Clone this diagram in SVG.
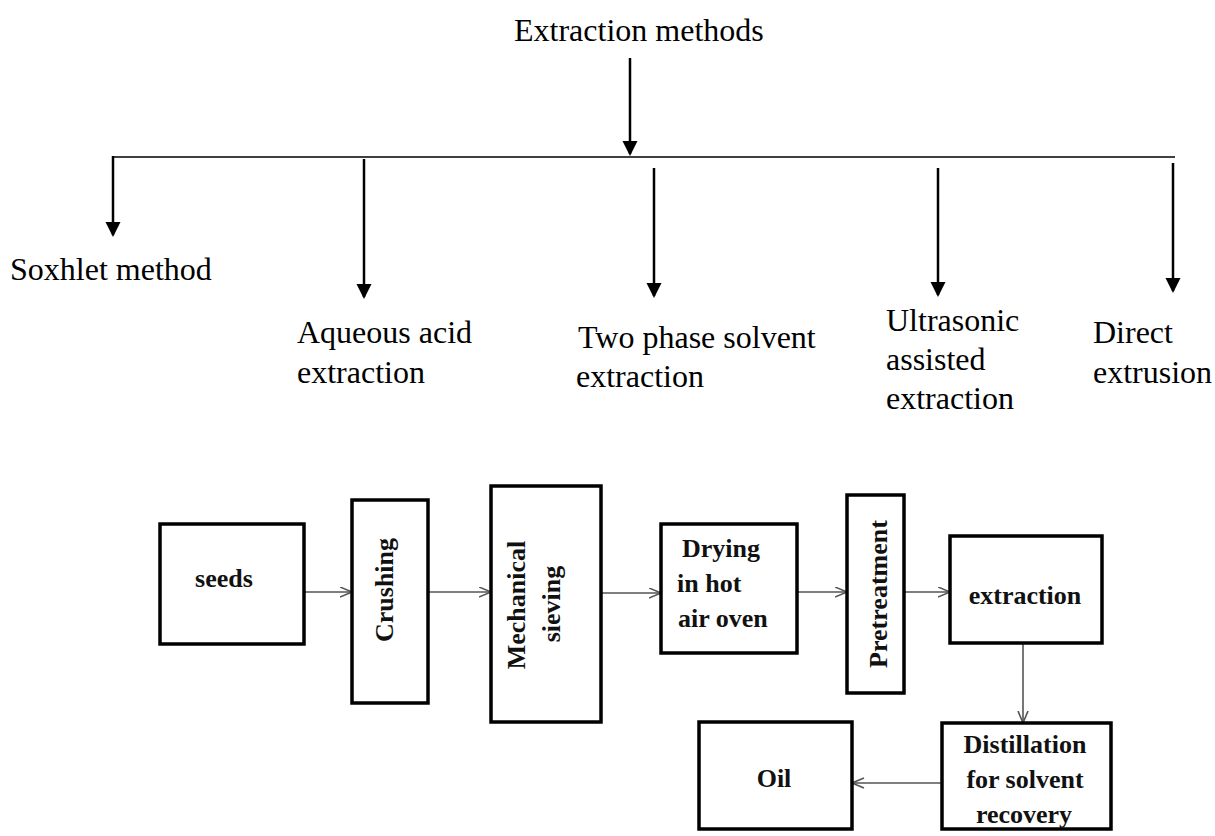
<svg xmlns="http://www.w3.org/2000/svg" width="1215" height="836" viewBox="0 0 1215 836">
<style>
.t{font-family:"Liberation Serif","Times New Roman",serif;font-size:32px;fill:#000}
.b{font-family:"Liberation Serif","Times New Roman",serif;font-size:26px;font-weight:bold;fill:#111}
.box{fill:#fff;stroke:#000;stroke-width:3.5}
.blk{stroke:#000;stroke-width:2.5;fill:none}
.gry{stroke:#555;stroke-width:1.6;fill:none}
</style>
<defs>
<marker id="tri" markerUnits="userSpaceOnUse" markerWidth="16" markerHeight="16" refX="13" refY="7.5" orient="auto">
<path d="M0,0 L15,7.5 L0,15 z" fill="#000"/>
</marker>
<marker id="chev" markerUnits="userSpaceOnUse" markerWidth="14" markerHeight="12" refX="12.5" refY="5.5" orient="auto">
<path d="M0.5,0.5 L12.5,5.5 L0.5,10.5" fill="none" stroke="#555" stroke-width="1.6"/>
</marker>
</defs>
<g id="connectors">
<line x1="112" y1="157" x2="1175" y2="157" stroke="#000" stroke-width="1.6"/>
<line class="blk" x1="630" y1="58" x2="630" y2="154" marker-end="url(#tri)"/>
<line class="blk" x1="113" y1="156" x2="113" y2="235" marker-end="url(#tri)"/>
<line class="blk" x1="364" y1="159" x2="364" y2="297" marker-end="url(#tri)"/>
<line class="blk" x1="654" y1="168" x2="654" y2="296" marker-end="url(#tri)"/>
<line class="blk" x1="938" y1="168" x2="938" y2="295" marker-end="url(#tri)"/>
<line class="blk" x1="1173" y1="163" x2="1173" y2="291" marker-end="url(#tri)"/>
<line class="gry" x1="304" y1="592" x2="352" y2="592" marker-end="url(#chev)"/>
<line class="gry" x1="428" y1="592" x2="491" y2="592" marker-end="url(#chev)"/>
<line class="gry" x1="601" y1="593" x2="661" y2="593" marker-end="url(#chev)"/>
<line class="gry" x1="797" y1="592" x2="847" y2="592" marker-end="url(#chev)"/>
<line class="gry" x1="904" y1="592" x2="950" y2="592" marker-end="url(#chev)"/>
<line class="gry" x1="1023" y1="643" x2="1023" y2="723" marker-end="url(#chev)"/>
<line class="gry" x1="942" y1="783" x2="852" y2="783" marker-end="url(#chev)"/>
</g>
<g id="title"><text class="t" x="514" y="41">Extraction methods</text></g>
<g id="soxhlet"><text class="t" x="10" y="280">Soxhlet method</text></g>
<g id="aqueous"><text class="t" x="297" y="343">Aqueous acid</text><text class="t" x="297" y="383">extraction</text></g>
<g id="twophase"><text class="t" x="578" y="348">Two phase solvent</text><text class="t" x="576" y="387">extraction</text></g>
<g id="ultrasonic"><text class="t" x="886" y="331">Ultrasonic</text><text class="t" x="886" y="370">assisted</text><text class="t" x="886" y="409">extraction</text></g>
<g id="direct"><text class="t" x="1093" y="343">Direct</text><text class="t" x="1093" y="383">extrusion</text></g>
<g id="seeds"><rect class="box" x="160" y="524" width="144" height="120"/><text class="b" x="224" y="587" text-anchor="middle">seeds</text></g>
<g id="crushing"><rect class="box" x="352" y="500" width="76" height="203"/><text class="b" transform="translate(393,590) rotate(-90)" text-anchor="middle">Crushing</text></g>
<g id="sieving"><rect class="box" x="491" y="486" width="110" height="236"/><text class="b" transform="translate(525,605) rotate(-90)" text-anchor="middle">Mechanical</text><text class="b" transform="translate(560,604) rotate(-90)" text-anchor="middle">sieving</text></g>
<g id="drying"><rect class="box" x="661" y="524" width="136" height="129"/><text class="b" x="682" y="557">Drying</text><text class="b" x="677" y="592">in hot</text><text class="b" x="678" y="627">air oven</text></g>
<g id="pretreatment"><rect class="box" x="847" y="495" width="57" height="198"/><text class="b" transform="translate(887,594) rotate(-90)" text-anchor="middle">Pretreatment</text></g>
<g id="extraction"><rect class="box" x="950" y="536" width="152" height="107"/><text class="b" x="1025" y="604" text-anchor="middle">extraction</text></g>
<g id="distillation"><rect class="box" x="942" y="723" width="169" height="106"/><text class="b" x="1025" y="753" text-anchor="middle">Distillation</text><text class="b" x="1025" y="788" text-anchor="middle">for solvent</text><text class="b" x="1024" y="823" text-anchor="middle">recovery</text></g>
<g id="oil"><rect class="box" x="699" y="722" width="153" height="107"/><text class="b" x="774" y="787" text-anchor="middle">Oil</text></g>
</svg>
